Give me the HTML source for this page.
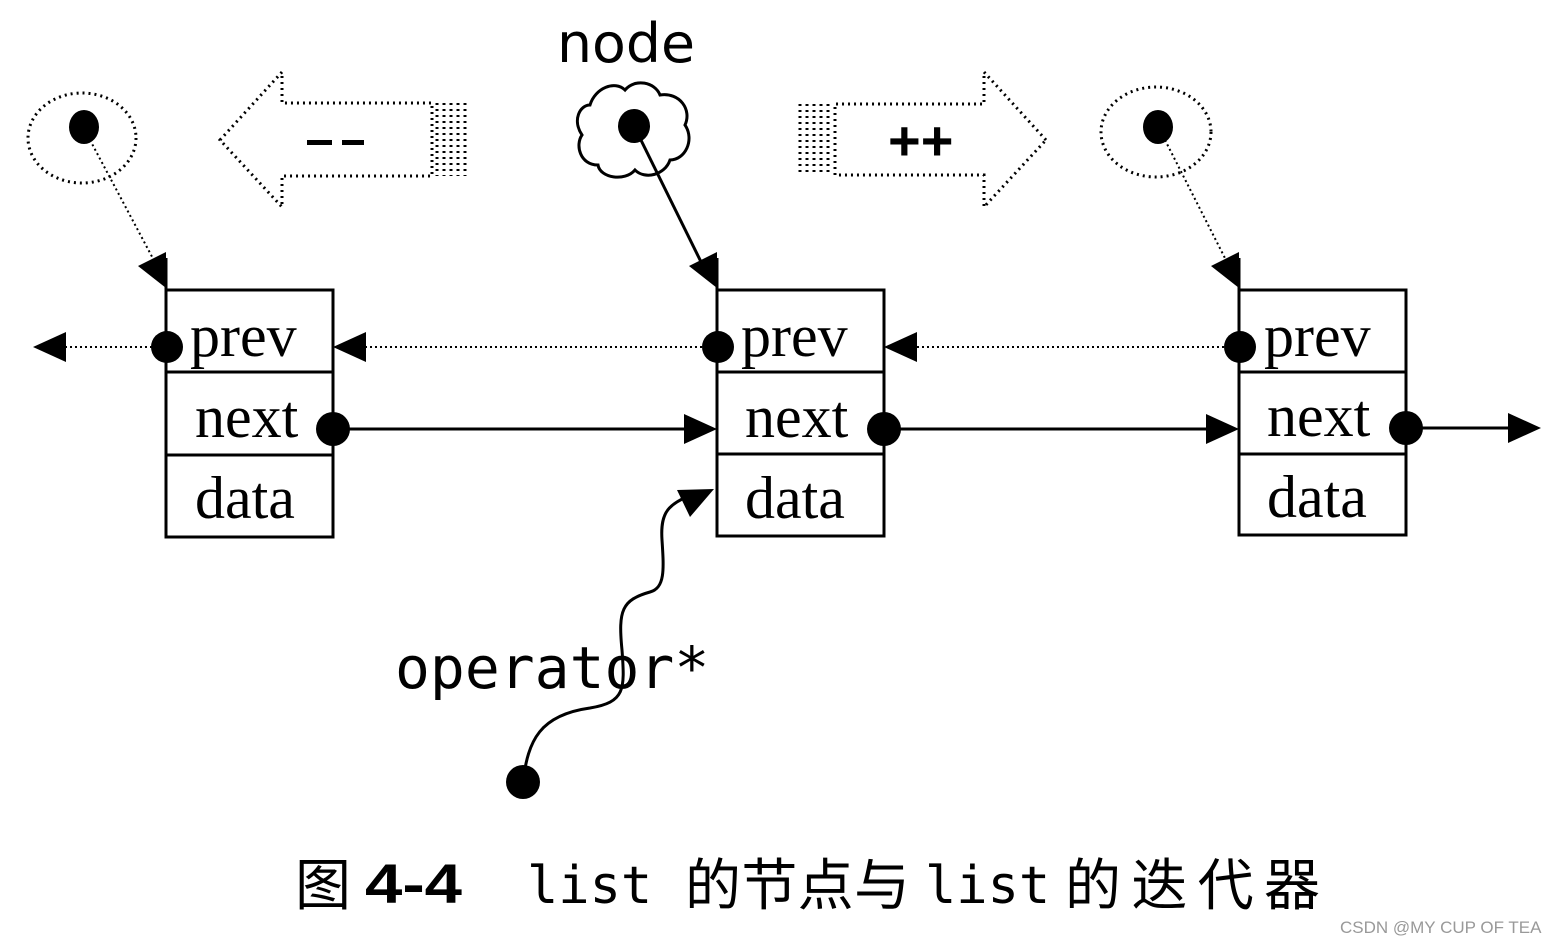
<!DOCTYPE html>
<html><head><meta charset="utf-8"><style>
html,body{margin:0;padding:0;background:#fff;}
svg{display:block}
.s{font-family:"Liberation Serif",serif;font-size:60px;fill:#000}
.m{font-family:"DejaVu Sans Mono","Liberation Mono",monospace;fill:#000}
</style></head><body>
<svg width="1566" height="944" viewBox="0 0 1566 944" xmlns="http://www.w3.org/2000/svg">
<g fill="none" stroke="#000">
<g stroke-width="3">
<rect x="166" y="290" width="167" height="247"/><line x1="166" y1="372" x2="333" y2="372"/><line x1="166" y1="455" x2="333" y2="455"/>
<rect x="717" y="290" width="167" height="246"/><line x1="717" y1="372" x2="884" y2="372"/><line x1="717" y1="454" x2="884" y2="454"/>
<rect x="1239" y="290" width="167" height="245"/><line x1="1239" y1="372" x2="1406" y2="372"/><line x1="1239" y1="454" x2="1406" y2="454"/>
<line x1="166" y1="258" x2="166" y2="290"/><line x1="717" y1="258" x2="717" y2="290"/><line x1="1239" y1="258" x2="1239" y2="290"/>
</g>
<g stroke-width="2" stroke-dasharray="2 3">
<line x1="60" y1="347" x2="167" y2="347"/>
<line x1="360" y1="347" x2="718" y2="347"/>
<line x1="912" y1="347" x2="1240" y2="347"/>
<line x1="90" y1="140" x2="158" y2="268"/>
<line x1="1165" y1="140" x2="1230" y2="268"/>
</g>
<g stroke-width="3">
<line x1="333" y1="429" x2="690" y2="429"/>
<line x1="884" y1="429" x2="1212" y2="429"/>
<line x1="1406" y1="428" x2="1515" y2="428"/>
<line x1="636" y1="130" x2="706" y2="272"/>
<path d="M523 782 C528 740 540 715 590 708 C625 702 625 690 622 650 C618 610 622 600 650 592 C665 588 664 570 662 540 C660 510 670 505 690 495"/>
</g>
<g stroke-width="3" stroke-dasharray="2 4">
<ellipse cx="82" cy="138" rx="54" ry="45"/>
<ellipse cx="1156" cy="132" rx="55" ry="45"/>
<path d="M220 140 L282 72 L282 103 L432 103 L432 176 L282 176 L282 207 Z"/>
<path d="M1046 140 L984 72 L984 104 L835 104 L835 175 L984 175 L984 207 Z"/>
<path d="M437 103 V176 M444 103 V176 M451 103 V176 M458 103 V176 M465 103 V176"/>
<path d="M800 104 V175 M807 104 V175 M814 104 V175 M821 104 V175 M828 104 V175"/>
</g>
<path stroke-width="3" d="M590 105 C595 88 615 80 625 90 C635 78 655 82 660 95 C680 92 692 110 685 125 C695 140 685 160 670 160 C665 175 645 180 635 170 C625 182 600 178 598 165 C580 165 575 145 582 135 C572 120 580 105 590 105 Z"/>
</g>
<g fill="#000">
<ellipse cx="84" cy="127" rx="15" ry="17"/>
<ellipse cx="634" cy="126" rx="16" ry="17"/>
<ellipse cx="1158" cy="127" rx="15" ry="17"/>
<circle cx="167" cy="347" r="16"/><circle cx="718" cy="347" r="16"/><circle cx="1240" cy="347" r="16"/>
<circle cx="333" cy="429" r="17"/><circle cx="884" cy="429" r="17"/><circle cx="1406" cy="428" r="17"/>
<circle cx="523" cy="782" r="17"/>
<polygon points="33,347 66,332 66,362"/>
<polygon points="333,347 366,332 366,362"/>
<polygon points="884,347 917,332 917,362"/>
<polygon points="717,429 684,414 684,444"/>
<polygon points="1239,429 1206,414 1206,444"/>
<polygon points="1541,428 1508,413 1508,443"/>
<polygon points="166,288 166,252 138,266"/>
<polygon points="717,288 717,252 689,266"/>
<polygon points="1239,288 1239,252 1211,266"/>
<polygon points="714,489 677,490 690,517"/>
<rect x="307" y="140" width="25" height="5"/><rect x="342" y="140" width="22" height="5"/>
</g>
<text x="888" y="160" font-family="Liberation Sans,sans-serif" font-size="56" font-weight="bold">++</text>
<text x="557" y="62" font-family="DejaVu Sans,sans-serif" font-size="54" textLength="138" lengthAdjust="spacingAndGlyphs">node</text>
<text class="s" x="190" y="356">prev</text><text class="s" x="195" y="437">next</text><text class="s" x="195" y="518">data</text>
<text class="s" x="741" y="356">prev</text><text class="s" x="745" y="437">next</text><text class="s" x="745" y="518">data</text>
<text class="s" x="1264" y="356">prev</text><text class="s" x="1267" y="436">next</text><text class="s" x="1267" y="517">data</text>
<text class="m" x="395" y="688" font-size="58">operator*</text>
<text x="295" y="905" font-family="'Noto Sans CJK SC',sans-serif" font-size="56">图</text>
<text x="365" y="903" font-family="'Liberation Sans',sans-serif" font-size="56" font-weight="bold" textLength="97" lengthAdjust="spacingAndGlyphs">4-4</text>
<text class="m" x="527" y="903" font-size="52">list</text>
<text x="685" y="905" font-family="'Noto Sans CJK SC',sans-serif" font-size="56" textLength="225">的节点与</text>
<text class="m" x="925" y="903" font-size="52">list</text>
<text x="1065" y="905" font-family="'Noto Sans CJK SC',sans-serif" font-size="56" textLength="255">的迭代器</text>
<text x="1340" y="933" font-family="Liberation Sans,sans-serif" font-size="17" fill="#999">CSDN @MY CUP OF TEA</text>
</svg>
</body></html>
